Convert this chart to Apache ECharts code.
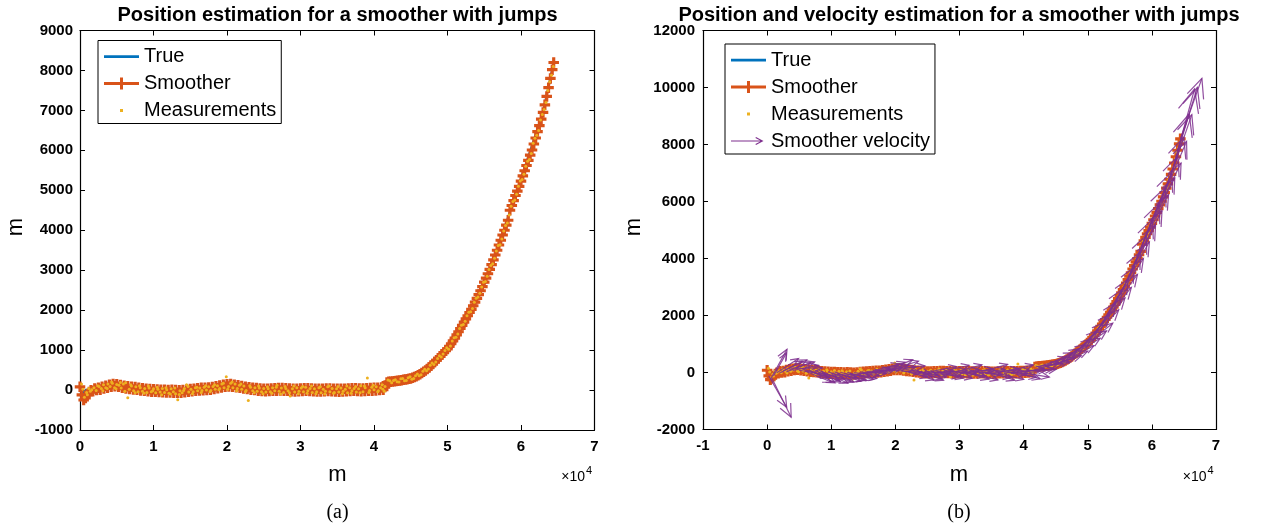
<!DOCTYPE html>
<html><head><meta charset="utf-8">
<script src="https://cdn.jsdelivr.net/npm/echarts@6/dist/echarts.min.js"></script>
<style>html,body{margin:0;padding:0;background:#fff}#c{width:1262px;height:531px}</style>
</head><body><div id="c"></div>
<script>
// ---- data (x in units of 1e4 m, y in m) ----
const smoother = [
[0,80],[0.025,-120],[0.05,-250],[0.075,-200],
[0.1,-120],[0.125,-50],[0.15,-5],[0.175,-30],[0.2,40],[0.225,0],[0.25,55],[0.275,10],[0.3,85],[0.325,40],[0.35,110],[0.375,60],[0.4,135],[0.425,85],[0.45,150],[0.475,95],[0.5,145],[0.525,80],[0.55,125],[0.575,60],[0.6,110],[0.625,40],[0.65,95],[0.675,25],[0.7,85],[0.725,15],[0.75,75],[0.775,5],[0.8,60],[0.825,-10],[0.85,45],[0.875,-20],[0.9,35],[0.925,-30],[0.95,25],[0.975,-40],
[1.0,20],[1.025,-45],[1.05,15],[1.075,-50],[1.1,10],[1.125,-55],[1.15,5],[1.175,-60],[1.2,0],[1.225,-60],[1.25,5],[1.275,-65],[1.3,0],[1.325,-70],[1.35,-5],[1.375,-65],[1.4,0],[1.425,-55],[1.45,15],[1.475,-45],[1.5,25],[1.525,-30],[1.55,35],[1.575,-20],[1.6,45],[1.625,-10],[1.65,55],[1.675,-5],[1.7,60],[1.725,0],[1.75,65],[1.775,10],[1.8,75],[1.825,25],[1.85,95],[1.875,45],[1.9,115],[1.925,65],[1.95,135],[1.975,85],
[2.0,145],[2.025,90],[2.05,150],[2.075,85],[2.1,135],[2.125,70],[2.15,120],[2.175,55],[2.2,100],[2.225,40],[2.25,85],[2.275,25],[2.3,70],[2.325,10],[2.35,60],[2.375,0],[2.4,50],[2.425,-15],[2.45,40],[2.475,-25],[2.5,35],[2.525,-30],[2.55,35],[2.575,-25],[2.6,40],[2.625,-20],[2.65,45],[2.675,-15],[2.7,50],[2.725,-10],[2.75,50],[2.775,-15],[2.8,45],[2.825,-20],[2.85,40],[2.875,-30],[2.9,35],[2.925,-35],[2.95,35],[2.975,-30],
[3.0,40],[3.025,-25],[3.05,45],[3.075,-20],[3.1,45],[3.125,-25],[3.15,40],[3.175,-30],[3.2,35],[3.225,-35],[3.25,30],[3.275,-35],[3.3,35],[3.325,-30],[3.35,40],[3.375,-25],[3.4,40],[3.425,-30],[3.45,35],[3.475,-35],[3.5,30],[3.525,-40],[3.55,30],[3.575,-35],[3.6,35],[3.625,-30],[3.65,40],[3.675,-25],[3.7,45],[3.725,-20],[3.75,45],[3.775,-25],[3.8,40],[3.825,-30],[3.85,40],[3.875,-25],[3.9,45],[3.925,-20],[3.95,50],[3.975,-15],
[4.0,55],[4.025,-10],[4.05,60],[4.075,0],[4.1,65],[4.125,10],[4.15,75],[4.175,190],[4.2,205],[4.225,210],[4.25,215],[4.275,220],[4.3,225],[4.325,232],[4.35,240],[4.375,247],[4.4,255],[4.425,262],[4.45,270],[4.475,280],
[4.5,292],[4.525,308],[4.55,325],[4.575,345],[4.6,368],[4.625,395],[4.65,425],[4.675,455],[4.7,488],[4.725,525],[4.75,565],[4.775,610],[4.8,655],[4.825,700],[4.85,745],[4.875,795],[4.9,840],[4.925,890],[4.95,940],[4.975,985],
[5.0,1030],[5.025,1095],[5.05,1160],[5.075,1230],[5.1,1300],[5.125,1380],[5.15,1460],[5.175,1540],[5.2,1620],[5.225,1700],[5.25,1780],[5.275,1860],[5.3,1940],[5.325,2020],[5.35,2110],[5.375,2200],[5.4,2295],[5.425,2390],[5.45,2485],[5.475,2590],
[5.5,2700],[5.525,2800],[5.55,2910],[5.575,3020],[5.6,3140],[5.625,3260],[5.65,3380],[5.675,3500],[5.7,3630],[5.725,3750],[5.75,3880],[5.775,4000],[5.8,4130],[5.825,4250],[5.85,4500],[5.875,4620],[5.9,4740],[5.925,4870],[5.95,4980],[5.975,5100],
[6.0,5230],[6.025,5360],[6.05,5490],[6.075,5620],[6.1,5750],[6.125,5880],[6.15,6010],[6.175,6160],[6.2,6310],[6.225,6470],[6.25,6620],[6.275,6780],[6.3,6950],[6.325,7140],[6.35,7350],[6.375,7570],[6.4,7800],[6.425,8020],[6.445,8200]
];
const truePath = [
[0,-280],[0.03,-100],[0.08,10],[0.2,20],[0.35,70],[0.5,100],[0.65,60],[0.8,30],[1.0,0],[1.2,-20],[1.35,-30],[1.6,10],[1.8,40],[2.0,100],[2.1,100],[2.3,40],[2.5,5],[2.7,15],[3.0,5],[3.3,0],[3.6,0],[3.9,10],[4.15,40],
[4.2,200],[4.4,255],[4.6,368],[4.8,655],[5.0,1030],[5.2,1620],[5.4,2295],[5.6,3140],[5.8,4200],[6.0,5300],[6.2,6400],[6.3,6980],[6.445,8200]
];
const measurements = [
[0.02,150],[0.06,-180],[0.09,-60],[0.12,40],[0.16,10],[0.19,60],[0.22,-10],[0.26,90],[0.29,40],[0.32,130],[0.35,60],[0.38,150],[0.41,90],[0.44,170],[0.47,60],[0.50,140],[0.53,120],[0.56,50],[0.59,150],[0.62,180],[0.65,-190],[0.67,20],[0.70,100],[0.73,-20],[0.76,80],[0.79,-40],[0.82,60],[0.85,-30],[0.88,40],[0.91,-60],[0.94,50],[0.97,-40],
[1.00,30],[1.03,-70],[1.06,20],[1.09,-50],[1.12,40],[1.15,-60],[1.18,10],[1.21,-80],[1.24,30],[1.27,-40],[1.30,-90],[1.33,-240],[1.36,-20],[1.39,-70],[1.42,40],[1.45,130],[1.48,-50],[1.51,20],[1.54,-40],[1.57,60],[1.60,-20],[1.63,50],[1.66,-10],[1.69,70],[1.72,0],[1.75,80],[1.78,-10],[1.81,90],[1.84,20],[1.87,110],[1.90,40],[1.93,150],[1.96,60],[1.99,330],
[2.02,90],[2.05,170],[2.08,60],[2.11,150],[2.14,40],[2.17,120],[2.20,20],[2.23,100],[2.26,-10],[2.29,-260],[2.32,70],[2.35,-20],[2.38,60],[2.41,-30],[2.44,50],[2.47,-40],[2.50,40],[2.53,-50],[2.56,30],[2.59,-40],[2.62,60],[2.65,-20],[2.68,120],[2.71,-30],[2.74,50],[2.77,-60],[2.80,40],[2.83,-20],[2.86,-150],[2.89,30],[2.92,-50],[2.95,60],[2.98,-30],
[3.01,50],[3.04,-40],[3.07,70],[3.10,-20],[3.13,40],[3.16,-60],[3.19,30],[3.22,-40],[3.25,60],[3.28,-70],[3.31,20],[3.34,-30],[3.37,80],[3.40,-40],[3.43,40],[3.46,-60],[3.49,30],[3.52,-50],[3.55,50],[3.58,-30],[3.61,20],[3.64,-70],[3.67,60],[3.70,-20],[3.73,40],[3.76,-50],[3.79,30],[3.82,110],[3.85,-40],[3.88,60],[3.91,300],[3.94,-10],[3.97,70],
[4.00,10],[4.03,80],[4.06,-20],[4.09,60],[4.12,20],[4.15,90],
[0.04,20],[0.10,-120],[0.14,-30],[0.24,110],[0.31,-20],[0.37,40],[0.43,200],[0.49,30],[0.55,190],[0.61,-30],[0.69,130],[0.75,-70],[0.81,110],[0.87,-80],[0.93,100],[0.99,-20],[1.05,70],[1.11,-120],[1.17,60],[1.23,-100],[1.29,50],[1.35,-110],[1.41,-10],[1.47,90],[1.53,-90],[1.59,70],[1.65,-60],[1.71,110],[1.77,-40],[1.83,130],[1.89,10],[1.95,170],
[2.01,20],[2.07,200],[2.13,-20],[2.19,150],[2.25,-40],[2.31,110],[2.37,-70],[2.43,100],[2.49,-90],[2.55,80],[2.61,-80],[2.67,70],[2.73,-100],[2.79,90],[2.85,-70],[2.91,100],[2.97,-90],[3.03,90],[3.09,-80],[3.15,100],[3.21,-90],[3.27,80],[3.33,-100],[3.39,100],[3.45,-80],[3.51,90],[3.57,-90],[3.63,100],[3.69,-80],[3.75,90],[3.81,-70],[3.87,100],[3.93,-60],[3.99,120],[4.05,-40],[4.11,130],[4.14,-30],
[4.19,250],[4.24,180],[4.29,260],[4.34,200],[4.39,290],[4.44,240],[4.49,330],[4.54,290],[4.59,400],[4.64,380],[4.69,520],[4.74,530],[4.79,680],[4.84,700],[4.89,860],[4.94,900],[4.99,1060],
[5.04,1100],[5.09,1310],[5.14,1400],[5.19,1620],[5.24,1720],[5.29,1950],[5.34,2040],[5.39,2300],[5.44,2420],[5.49,2700],[5.54,2850],[5.59,3120],[5.64,3300],[5.69,3620],[5.74,3780],[5.79,4120],[5.84,4380],[5.89,4720],[5.94,4900],[5.99,5230],
[6.04,5400],[6.09,5730],[6.14,5920],[6.19,6300],[6.24,6500],[6.29,6900],[6.34,7200],[6.39,7720],[6.44,8100],
[4.215,230],[4.265,240],[4.315,210],[4.365,280],[4.415,230],[4.465,310],[4.515,270],[4.565,360],[4.615,360],[4.665,470],[4.715,480],[4.765,620],[4.815,640],[4.865,790],[4.915,830],[4.965,990],[5.015,1020],[5.065,1230],[5.115,1320],[5.165,1540],[5.215,1640],[5.265,1860],
[5.315,1960],[5.365,2200],[5.415,2330],[5.465,2580],[5.515,2720],[5.565,3020],[5.615,3160],[5.665,3480],[5.715,3640],[5.765,3980],[5.815,4180],[5.865,4600],[5.915,4760],[5.965,5100],[6.015,5270],[6.065,5600],[6.115,5770],[6.165,6180],[6.215,6380],[6.265,6760],[6.315,7020],[6.365,7500],[6.415,7880]
];
// velocity arrows: [x, y, dx (1e4 m), dy (m)] already scaled like quiver
const velocity = [
[0.025,-120,0.28,-1100],[0.05,-250,0.26,1064],[0.075,-200,0.30,-1372],[0.1,-120,0.20,800],
[0.15,-10,.34,500],[0.2,-20,.35,420],[0.25,60,.37,380],[0.3,20,.38,330],[0.35,110,.39,260],[0.4,70,.40,180],[0.45,140,.41,20],[0.5,80,.42,-160],[0.55,125,.41,-300],[0.6,45,.40,-380],[0.65,90,.41,-450],[0.7,20,.42,-300],[0.75,70,.40,-400],[0.8,0,.40,-220],[0.85,45,.41,-420],[0.9,-25,.41,-300],[0.95,30,.40,-360],
[1.0,-35,.40,-150],[1.05,20,.41,-330],[1.1,-45,.42,-220],[1.15,10,.40,-280],[1.2,-50,.40,-80],[1.25,5,.41,-250],[1.3,-60,.41,-150],[1.35,-5,.40,-100],[1.4,-60,.40,80],[1.45,10,.41,-40],[1.5,-40,.42,160],[1.55,30,.40,60],[1.6,-20,.40,130],[1.65,50,.41,250],[1.7,-5,.41,180],[1.75,60,.40,300],[1.8,10,.40,230],[1.85,85,.42,360],[1.9,45,.42,150],[1.95,125,.41,270],
[2.0,75,.40,-80],[2.05,140,.41,90],[2.1,70,.41,-230],[2.15,115,.40,-150],[2.2,40,.40,-300],[2.25,85,.41,-180],[2.3,10,.42,-230],[2.35,60,.40,-330],[2.4,-10,.40,-150],[2.45,40,.41,-60],[2.5,-25,.41,80],[2.55,30,.40,180],[2.6,-25,.40,-120],[2.65,40,.41,-240],[2.7,-15,.42,90],[2.75,45,.40,210],[2.8,-20,.40,-180],[2.85,35,.41,-60],[2.9,-30,.41,120],[2.95,30,.40,240],
[3.0,-25,.40,-90],[3.05,40,.41,-270],[3.1,-20,.42,150],[3.15,35,.40,50],[3.2,-30,.40,-230],[3.25,25,.41,-90],[3.3,-30,.41,140],[3.35,35,.40,250],[3.4,-25,.40,-150],[3.45,30,.41,-300],[3.5,-35,.42,180],[3.55,25,.40,60],[3.6,-30,.40,-210],[3.65,35,.41,-80],[3.7,-20,.41,90],[3.75,40,.40,230],[3.8,-25,.40,-140],[3.85,35,.41,-260],[3.9,-20,.42,170],[3.95,45,.40,30],
[4.0,-10,.40,-150],[4.05,55,.41,60],[4.1,0,.41,120],[4.15,70,.40,270],
[4.2,205,.42,100],[4.25,215,.42,320],[4.3,225,.41,150],[4.35,240,.41,450],[4.4,255,.40,250],[4.45,270,.40,550],[4.5,292,.40,300],[4.55,325,.40,650],[4.6,368,.398,380],[4.65,425,.397,750],[4.7,488,.396,450],[4.75,565,.395,900],[4.8,655,.394,550],[4.85,745,.393,1000],[4.9,840,.392,620],[4.95,940,.391,1100],
[5.0,1030,.39,700],[5.05,1160,.386,1300],[5.1,1300,.383,900],[5.15,1460,.382,1450],[5.2,1620,.381,1000],[5.25,1780,.38,1500],[5.3,1940,.38,1050],[5.35,2110,.377,1600],[5.4,2295,.375,1150],[5.45,2485,.371,1750],[5.5,2700,.368,1300],[5.55,2910,.365,1900],[5.6,3140,.362,1450],[5.65,3380,.36,2000],[5.7,3630,.358,1550],[5.75,3880,.358,2050],
[5.8,4130,.358,1550],[5.85,4500,.359,2000],[5.9,4740,.36,1500],[5.95,4980,.358,2050],[6.0,5230,.357,1600],[6.05,5490,.356,2100],[6.1,5750,.355,1600],[6.15,6010,.348,2250],[6.2,6310,.341,1800],[6.25,6620,.332,2450],[6.3,6950,.323,2100],[6.35,7350,.316,2600],[6.4,7800,.31,2200],[6.445,8200,.335,2120]
];
const titles = ['Position estimation for a smoother with jumps', 'Position and velocity estimation for a smoother with jumps'];
const captions = ['(a)', '(b)'];
const names = ['True', 'Smoother', 'Measurements', 'Smoother velocity'];

// ---- styles ----
const FONT = "'Liberation Sans', Arial, Helvetica, sans-serif";
const C_TRUE = '#0072BD', C_SM = '#D95319', C_MEAS = '#EDB120', C_VEL = '#7E2F8E';
const PLUS = 'path://M3.5,0h3v3.5h3.5v3h-3.5v3.5h-3v-3.5h-3.5v-3h3.5z';
const ICON_TRUE = 'path://M0,0L0,0M35,14L35,14M0,5.8h35v2.6h-35z';
const ICON_SM = 'path://M0,0L0,0M35,14L35,14M0,5.5h35v3h-35z M16,1h3v12h-3z M11.5,5.5h12v3h-12z';
const ICON_MEAS = 'path://M0,0L0,0M35,14L35,14M16,5.5h3v3h-3z';
const ICON_VEL = 'path://M0,0L0,0M35,14L35,14M0,6.4h31v1.2h-31z M25,3L32.5,7L25,11L24.4,10L30.3,7L24.4,4z';
const plainNum = v => String(v);

function xAx(grid, min, pos) {
  return { type:'value', gridIndex:grid, min:min, max:7, interval:1, position:pos,
    axisLine:{show:true, onZero:false, lineStyle:{color:'#000', width:1.2}},
    axisTick:{show:true, inside:true, length:5, lineStyle:{color:'#000', width:1}},
    splitLine:{show:false},
    axisLabel:{show: pos==='bottom', formatter:plainNum, color:'#000', fontFamily:FONT, fontSize:15, fontWeight:'bold', margin:9} };
}
function yAx(grid, min, max, step, pos, margin) {
  return { type:'value', gridIndex:grid, min:min, max:max, interval:step, position:pos,
    axisLine:{show:true, onZero:false, lineStyle:{color:'#000', width:1.2}},
    axisTick:{show:true, inside:true, length:5, lineStyle:{color:'#000', width:1}},
    splitLine:{show:false},
    axisLabel:{show: pos==='left', formatter:plainNum, color:'#000', fontFamily:FONT, fontSize:15, fontWeight:'bold', margin:margin} };
}

function renderArrow(params, api) {
  const x = api.value(0), y = api.value(1), dx = api.value(2), dy = api.value(3);
  const p0 = api.coord([x, y]);
  const p1 = api.coord([x + dx, y + dy]);
  const vx = p1[0] - p0[0], vy = p1[1] - p0[1];
  const len = Math.sqrt(vx*vx + vy*vy) || 1;
  const ux = vx/len, uy = vy/len;
  const h = len * 0.3, w = h * 0.45;
  const bx = p1[0] - ux*h, by = p1[1] - uy*h;
  const a = [bx - uy*w, by + ux*w], b = [bx + uy*w, by - ux*w];
  return { type:'group', children:[
    { type:'polyline', shape:{points:[p0, p1]}, style:{stroke:C_VEL, lineWidth:1.2, fill:null, opacity:0.85} },
    { type:'polyline', shape:{points:[a, p1, b]}, style:{stroke:C_VEL, lineWidth:1.2, fill:null, opacity:0.85} }
  ]};
}

function seriesFor(g) {
  const s = [
    { name:names[0], type:'line', xAxisIndex:g*2, yAxisIndex:g*2, data:truePath, symbol:'none',
      lineStyle:{color:C_TRUE, width:2}, itemStyle:{color:C_TRUE}, z:2 },
    { name:names[1], type:'line', xAxisIndex:g*2, yAxisIndex:g*2, data:smoother, symbol:PLUS, symbolSize:10.5,
      showSymbol:true, showAllSymbol:true, lineStyle:{color:C_SM, width:2}, itemStyle:{color:C_SM, borderWidth:0}, z:3 },
    { name:names[2], type:'scatter', xAxisIndex:g*2, yAxisIndex:g*2, data:measurements, symbol:'circle', symbolSize:3,
      itemStyle:{color:C_MEAS, opacity:1}, z:4 }
  ];
  if (g === 1) s.push({ name:names[3], type:'custom', xAxisIndex:2, yAxisIndex:2, data:velocity,
      encode:{x:0, y:1}, renderItem:renderArrow, itemStyle:{color:C_VEL}, z:5 });
  return s;
}

function legendFor(left, top, n) {
  const icons = [ICON_TRUE, ICON_SM, ICON_MEAS, ICON_VEL];
  return { orient:'vertical', left:left, top:top, padding:[6,5,3,6], itemGap:7, itemWidth:35, itemHeight:14,
    borderColor:'#000', borderWidth:1, backgroundColor:'#fff', selectedMode:false,
    itemStyle:{borderWidth:0},
    textStyle:{fontFamily:FONT, fontSize:20, color:'#000'},
    data: names.slice(0, n).map((nm, i) => ({name:nm, icon:icons[i]})) };
}

const txt = (x, y, text, font, extra) => Object.assign({ type:'text', x:x, y:y, z:100,
  style:{ text:text, font:font, fill:'#000', textAlign:'center', textVerticalAlign:'middle' } }, extra || {});

const chart = echarts.init(document.getElementById('c'), null, {renderer:'canvas'});
chart.setOption({
  animation:false,
  backgroundColor:'#fff',
  grid:[ {left:80, right:667.5, top:30.5, bottom:101, containLabel:false},
         {left:703, right:46, top:30.5, bottom:101.5, containLabel:false} ],
  xAxis:[ xAx(0, 0, 'bottom'), xAx(0, 0, 'top'), xAx(1, -1, 'bottom'), xAx(1, -1, 'top') ],
  yAxis:[ yAx(0, -1000, 9000, 1000, 'left', 7), yAx(0, -1000, 9000, 1000, 'right', 7),
          yAx(1, -2000, 12000, 2000, 'left', 8), yAx(1, -2000, 12000, 2000, 'right', 8) ],
  legend:[ legendFor(98, 40.5, 3), legendFor(725, 44, 4) ],
  series: seriesFor(0).concat(seriesFor(1)),
  graphic:[
    txt(337.5, 15, titles[0], "bold 20px " + FONT),
    txt(959, 15, titles[1], "bold 20px " + FONT),
    txt(16, 227, 'm', "22px " + FONT, {rotation: Math.PI/2}),
    txt(634, 227, 'm', "22px " + FONT, {rotation: Math.PI/2}),
    txt(337.5, 475, 'm', "22px " + FONT),
    txt(959, 475, 'm', "22px " + FONT),
    { type:'text', x:585, y:477, z:100, style:{text:'\u00d710', font:"14px " + FONT, fill:'#000', textAlign:'right', textVerticalAlign:'middle'} },
    { type:'text', x:586, y:470.5, z:100, style:{text:'4', font:"11px " + FONT, fill:'#000', textAlign:'left', textVerticalAlign:'middle'} },
    { type:'text', x:1206.5, y:477, z:100, style:{text:'\u00d710', font:"14px " + FONT, fill:'#000', textAlign:'right', textVerticalAlign:'middle'} },
    { type:'text', x:1207.5, y:470.5, z:100, style:{text:'4', font:"11px " + FONT, fill:'#000', textAlign:'left', textVerticalAlign:'middle'} },
    txt(337.5, 513, captions[0], "20px 'Liberation Serif', 'Times New Roman', serif"),
    txt(959, 513, captions[1], "20px 'Liberation Serif', 'Times New Roman', serif")
  ]
});
</script>
</body></html>
